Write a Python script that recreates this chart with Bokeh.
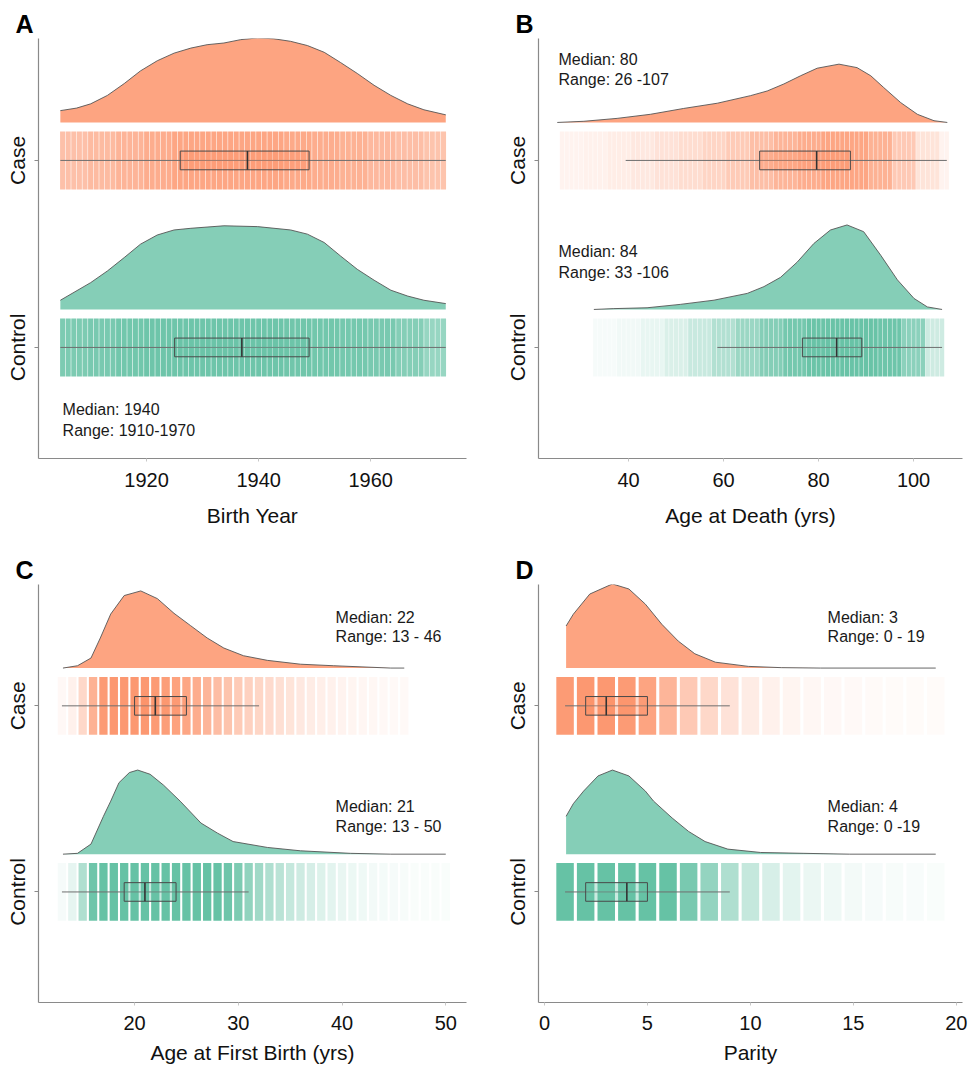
from bokeh.plotting import figure
from bokeh.layouts import column, row
from bokeh.models import FixedTicker, Range1d, Label
from bokeh.embed import file_html
from bokeh.resources import INLINE

# ---------------- data ----------------
CATEGORIES = ["Control", "Case"]          # y positions 1, 2

# Panel A : Birth Year
A_TICKS = [1920, 1940, 1960]
A_CASE_DENS_X = [1904.6, 1907.5, 1910.0, 1913.0, 1916.0, 1918.9, 1921.9, 1924.9, 1927.9, 1930.8, 1933.8, 1936.8, 1939.8,
                 1942.7, 1945.7, 1948.7, 1951.7, 1954.6, 1957.6, 1960.6, 1963.6, 1966.6, 1969.5, 1973.4]
A_CASE_DENS_Y = [0.14, 0.17, 0.22, 0.32, 0.46, 0.61, 0.73, 0.82, 0.88, 0.92, 0.94, 0.98, 1.0,
                 0.99, 0.96, 0.91, 0.83, 0.71, 0.58, 0.44, 0.32, 0.22, 0.15, 0.09]
A_CTRL_DENS_X = [1904.6, 1910.0, 1913.0, 1916.0, 1918.9, 1921.9, 1924.9, 1927.9, 1933.8, 1939.8, 1945.7, 1948.7,
                 1951.7, 1954.6, 1957.6, 1960.6, 1963.6, 1966.6, 1969.5, 1973.4]
A_CTRL_DENS_Y = [0.11, 0.32, 0.46, 0.62, 0.78, 0.89, 0.95, 0.97, 1.0, 0.99, 0.95, 0.90,
                 0.80, 0.64, 0.48, 0.35, 0.23, 0.16, 0.11, 0.07]
A_PEAKS = [1.0, 0.99]                      # case, control
A_CASE_BOX = [1904.6, 1926, 1938, 1949, 1973.4]   # whisker lo, Q1, median, Q3, whisker hi
A_CTRL_BOX = [1904.6, 1925, 1937, 1949, 1973.4]
A_CLOUD_EDGES = [1905, 1910, 1915, 1920, 1925, 1930, 1935, 1940, 1945, 1950, 1955, 1960, 1965, 1970, 1974]
A_CASE_CLOUD = [0.55, 0.6, 0.66, 0.72, 0.78, 0.78, 0.78, 0.78, 0.75, 0.72, 0.68, 0.62, 0.57, 0.52]
A_CTRL_CLOUD = [0.85, 0.88, 0.92, 0.95, 0.95, 0.95, 0.95, 0.95, 0.93, 0.92, 0.9, 0.88, 0.8, 0.68]
A_NOTES = [("Median: 1940", "Range: 1910-1970")]

# Panel B : Age at Death
B_TICKS = [40, 60, 80, 100]
B_CASE_DENS_X = [25.0, 30.6, 37.6, 44.6, 51.6, 58.7, 65.7, 69.2, 72.7, 76.2, 79.7, 84.3, 88.1, 91.0, 93.7, 97.3, 100.8, 104.3, 107.1]
B_CASE_DENS_Y = [0.0, 0.02, 0.07, 0.14, 0.24, 0.33, 0.46, 0.54, 0.66, 0.80, 0.93, 1.0, 0.94, 0.80, 0.60, 0.34, 0.14, 0.03, 0.0]
B_CTRL_DENS_X = [32.7, 36.9, 43.9, 50.9, 58.0, 65.0, 68.5, 72.0, 75.5, 79.0, 82.5, 86.0, 89.5, 93.1, 96.6, 100.1, 102.9, 106.0]
B_CTRL_DENS_Y = [0.0, 0.01, 0.02, 0.06, 0.11, 0.19, 0.27, 0.38, 0.56, 0.78, 0.94, 1.0, 0.92, 0.64, 0.35, 0.13, 0.03, 0.0]
B_PEAKS = [0.69, 1.0]
B_CASE_BOX = [39.4, 67.6, 79.6, 86.7, 107]
B_CTRL_BOX = [58.7, 76.6, 83.8, 89.1, 106]
B_CASE_CLOUD_EDGES = [26, 31, 36, 41, 46, 51, 56, 61, 66, 71, 76, 81, 86, 91, 96, 101, 106, 108]
B_CASE_CLOUD = [0.1, 0.12, 0.16, 0.2, 0.25, 0.3, 0.37, 0.46, 0.56, 0.65, 0.72, 0.78, 0.78, 0.68, 0.47, 0.24, 0.1]
B_CTRL_CLOUD_EDGES = [33, 38, 43, 48, 53, 58, 63, 68, 73, 78, 83, 88, 93, 98, 103, 107]
B_CTRL_CLOUD = [0.06, 0.09, 0.15, 0.24, 0.36, 0.5, 0.65, 0.8, 0.9, 0.97, 0.98, 0.98, 0.95, 0.75, 0.32]
B_NOTES = [("Median: 80", "Range: 26 -107"), ("Median: 84", "Range: 33 -106")]

# Panel C : Age at First Birth
C_TICKS = [20, 30, 40, 50]
C_CASE_DENS_X = [13.1, 14.5, 15.8, 16.7, 17.7, 19.0, 20.6, 22.2, 23.8, 25.4, 27.0, 28.6, 30.5, 32.8, 36.0, 39.2, 44.7, 46.0]
C_CASE_DENS_Y = [0.0, 0.03, 0.13, 0.39, 0.70, 0.94, 1.0, 0.90, 0.71, 0.55, 0.39, 0.26, 0.16, 0.10, 0.05, 0.03, 0.0, 0.0]
C_CTRL_DENS_X = [13.1, 14.5, 15.8, 17.0, 17.7, 18.5, 19.5, 20.3, 21.5, 22.8, 24.4, 26.4, 28.0, 29.5, 32.8, 36.0, 40.8, 44.7, 50.0]
C_CTRL_DENS_Y = [0.0, 0.01, 0.12, 0.45, 0.63, 0.85, 0.97, 1.0, 0.95, 0.82, 0.63, 0.37, 0.25, 0.15, 0.08, 0.04, 0.01, 0.0, 0.0]
C_PEAKS = [0.917, 1.0]
C_CASE_BOX = [13, 20, 22, 25, 32]
C_CTRL_BOX = [13, 19, 21, 24, 31]
C_CASE_CLOUD_X = list(range(13, 47))
C_CASE_CLOUD = [0.06, 0.12, 0.34, 0.68, 0.88, 0.9, 0.9, 0.9, 0.9, 0.88, 0.85, 0.82, 0.78, 0.72, 0.65, 0.58, 0.52,
                0.46, 0.4, 0.36, 0.32, 0.28, 0.24, 0.2, 0.17, 0.14, 0.12, 0.1, 0.09, 0.08, 0.07, 0.06, 0.05, 0.05]
C_CTRL_CLOUD_X = list(range(13, 51))
C_CTRL_CLOUD = [0.06, 0.16, 0.52, 0.95, 1, 1, 1, 1, 1, 1, 1, 1, 1, 1, 1, 1, 0.95, 0.85, 0.72, 0.62, 0.52,
                0.45, 0.38, 0.32, 0.27, 0.22, 0.18, 0.14, 0.12, 0.1, 0.08, 0.07, 0.06, 0.05, 0.04, 0.04, 0.04, 0.04]
C_NOTES = [("Median: 22", "Range: 13 - 46"), ("Median: 21", "Range: 13 - 50")]

# Panel D : Parity
D_TICKS = [0, 5, 10, 15, 20]
D_CASE_DENS_X = [1.05, 1.4, 2.2, 3.3, 4.1, 4.9, 5.7, 6.5, 7.3, 8.3, 9.9, 11.5, 13.4, 19.0]
D_CASE_DENS_Y = [0.50, 0.64, 0.88, 1.0, 0.94, 0.76, 0.52, 0.32, 0.17, 0.07, 0.02, 0.005, 0.0, 0.0]
D_CTRL_DENS_X = [1.05, 1.4, 1.9, 2.6, 3.3, 4.1, 4.9, 5.3, 6.2, 7.0, 7.8, 8.9, 10.5, 12.6, 14.8, 19.0]
D_CTRL_DENS_Y = [0.45, 0.60, 0.75, 0.93, 1.0, 0.93, 0.75, 0.63, 0.43, 0.27, 0.15, 0.06, 0.02, 0.01, 0.0, 0.0]
D_PEAKS = [1.0, 1.0]
D_CASE_BOX = [1, 2, 3, 5, 9]
D_CTRL_BOX = [1, 2, 4, 5, 9]
D_CLOUD_X = list(range(1, 20))
D_CASE_CLOUD = [0.88, 0.9, 0.9, 0.88, 0.8, 0.65, 0.47, 0.34, 0.25, 0.17, 0.12, 0.09, 0.07, 0.06, 0.05, 0.045, 0.04, 0.035, 0.035]
D_CTRL_CLOUD = [1, 1, 1, 1, 1, 1, 0.88, 0.7, 0.52, 0.38, 0.26, 0.18, 0.13, 0.1, 0.08, 0.06, 0.05, 0.045, 0.04]
D_NOTES = [("Median: 3", "Range: 0 - 19"), ("Median: 4", "Range: 0 -19")]

X_LABELS = ["Birth Year", "Age at Death (yrs)", "Age at First Birth (yrs)", "Parity"]
LETTERS = ["A", "B", "C", "D"]

# ---------------- style ----------------
FONT = "Liberation Sans"
CASE_COL = "#FC8D62"
CTRL_COL = "#66C2A5"
AXIS_COL = "#8a8a8a"
Y0, Y1 = 0.406, 2.652
DENS_OFF = 0.203
DENS_H = 0.452
JIT_H = 0.31
BOX_H = 0.1


def expand_bins(edges, shades):
    """One stripe per integer value inside each binned shade reading."""
    xs, al = [], []
    for lo, hi, s in zip(edges[:-1], edges[1:], shades):
        for v in range(lo, hi):
            xs.append(v)
            al.append(s)
    return xs, al


def make_panel(letter, xlabel, width, height, bl, br, bt, bb, xr, ticks, groups, notes,
               cloud_w, note_x, note_ys, lab_stand, title_stand):
    p = figure(width=width, height=height, x_range=Range1d(*xr), y_range=Range1d(Y0, Y1),
               output_backend="svg", toolbar_location=None, title=letter,
               min_border_left=bl, min_border_right=br, min_border_top=bt, min_border_bottom=bb)
    p.grid.visible = False
    p.outline_line_color = None
    p.title.text_font = FONT
    p.title.text_font_size = "25px"
    p.title.text_font_style = "bold"
    p.title.text_color = "#000000"
    p.title.align = "left"
    p.title.offset = -23
    p.title.standoff = 2

    for ycat, color, dx, dy, peak, cx, cv, box in groups:
        base = ycat + DENS_OFF
        top = [base + v * peak * DENS_H for v in dy]
        p.patch([dx[0]] + list(dx) + [dx[-1]], [base] + top + [base],
                fill_color=color, fill_alpha=0.8, line_color=None)
        p.line(list(dx), top, line_color="#555555", line_width=0.9)
        p.rect(x=list(cx), y=[ycat] * len(cx), width=cloud_w, height=JIT_H,
               fill_color=color, fill_alpha=list(cv), line_color=None)
        p.segment(x0=[box[0]], y0=[ycat], x1=[box[4]], y1=[ycat], line_color="#6f6f6f", line_width=1)
        p.quad(left=[box[1]], right=[box[3]], bottom=[ycat - BOX_H / 2], top=[ycat + BOX_H / 2],
               fill_color=color, fill_alpha=0.35, line_color="#4a4a4a", line_width=1)
        p.segment(x0=[box[2]], y0=[ycat - BOX_H / 2], x1=[box[2]], y1=[ycat + BOX_H / 2],
                  line_color="#333333", line_width=1.6)

    for ax in (p.xaxis[0], p.yaxis[0]):
        ax.axis_line_color = AXIS_COL
        ax.axis_line_width = 1.2
        ax.major_tick_line_color = AXIS_COL
        ax.major_tick_in = 0
        ax.minor_tick_line_color = None
        ax.major_label_text_font = FONT
        ax.major_label_text_color = "#111111"
    p.yaxis.ticker = FixedTicker(ticks=[1, 2])
    p.yaxis.major_label_overrides = {1: CATEGORIES[0], 2: CATEGORIES[1]}
    p.yaxis.major_label_orientation = "vertical"
    p.yaxis.major_label_text_font_size = "21px"
    p.yaxis.major_tick_out = 4
    p.yaxis.major_label_standoff = 5
    p.xaxis.ticker = FixedTicker(ticks=ticks)
    p.xaxis.major_tick_out = 3
    p.xaxis.major_tick_line_color = "#c8c8c8"
    p.xaxis.major_label_text_font_size = "20px"
    p.xaxis.major_label_standoff = lab_stand
    p.xaxis.axis_label = xlabel
    p.xaxis.axis_label_text_font = FONT
    p.xaxis.axis_label_text_font_size = "21px"
    p.xaxis.axis_label_text_font_style = "normal"
    p.xaxis.axis_label_text_color = "#111111"
    p.xaxis.axis_label_standoff = title_stand

    for (t1, t2), (y1, y2) in zip(notes, note_ys):
        for t, yy in ((t1, y1), (t2, y2)):
            p.add_layout(Label(x=note_x, y=yy, text=t, text_font=FONT, text_font_size="16px",
                               text_baseline="middle", text_align="left", text_color="#1a1a1a"))
    return p


def groups_for(case_dx, case_dy, ctrl_dx, ctrl_dy, peaks, case_cloud, ctrl_cloud, case_box, ctrl_box):
    return [
        (2, CASE_COL, case_dx, case_dy, peaks[0], case_cloud[0], case_cloud[1], case_box),
        (1, CTRL_COL, ctrl_dx, ctrl_dy, peaks[1], ctrl_cloud[0], ctrl_cloud[1], ctrl_box),
    ]


pA = make_panel(LETTERS[0], X_LABELS[0], 500, 552, 38, 34, 38, 94, (1900.7, 1977.1), A_TICKS,
                groups_for(A_CASE_DENS_X, A_CASE_DENS_Y, A_CTRL_DENS_X, A_CTRL_DENS_Y, A_PEAKS,
                           expand_bins(A_CLOUD_EDGES, A_CASE_CLOUD), expand_bins(A_CLOUD_EDGES, A_CTRL_CLOUD),
                           A_CASE_BOX, A_CTRL_BOX),
                A_NOTES, 0.9, 1905.0, [(0.668, 0.556)], 11, 14)

pB = make_panel(LETTERS[1], X_LABELS[1], 470, 552, 38, 8, 38, 94, (21.05, 110.3), B_TICKS,
                groups_for(B_CASE_DENS_X, B_CASE_DENS_Y, B_CTRL_DENS_X, B_CTRL_DENS_Y, B_PEAKS,
                           expand_bins(B_CASE_CLOUD_EDGES, B_CASE_CLOUD), expand_bins(B_CTRL_CLOUD_EDGES, B_CTRL_CLOUD),
                           B_CASE_BOX, B_CTRL_BOX),
                B_NOTES, 0.9, 25.26, [(2.540, 2.433), (1.513, 1.401)], 11, 14)

pC = make_panel(LETTERS[2], X_LABELS[2], 500, 514, 38, 34, 30, 64, (10.74, 52.0), C_TICKS,
                groups_for(C_CASE_DENS_X, C_CASE_DENS_Y, C_CTRL_DENS_X, C_CTRL_DENS_Y, C_PEAKS,
                           (C_CASE_CLOUD_X, C_CASE_CLOUD), (C_CTRL_CLOUD_X, C_CTRL_CLOUD),
                           C_CASE_BOX, C_CTRL_BOX),
                C_NOTES, 0.8, 39.38, [(2.476, 2.374), (1.459, 1.353)], 10, 8)

pD = make_panel(LETTERS[3], X_LABELS[3], 470, 514, 38, 8, 30, 64, (-0.29, 20.3), D_TICKS,
                groups_for(D_CASE_DENS_X, D_CASE_DENS_Y, D_CTRL_DENS_X, D_CTRL_DENS_Y, D_PEAKS,
                           (D_CLOUD_X, D_CASE_CLOUD), (D_CLOUD_X, D_CTRL_CLOUD),
                           D_CASE_BOX, D_CTRL_BOX),
                D_NOTES, 0.85, 13.75, [(2.476, 2.374), (1.459, 1.353)], 10, 8)

layout = column(row(pA, pB), row(pC, pD))
open("out.html", "w").write(file_html(layout, INLINE))
